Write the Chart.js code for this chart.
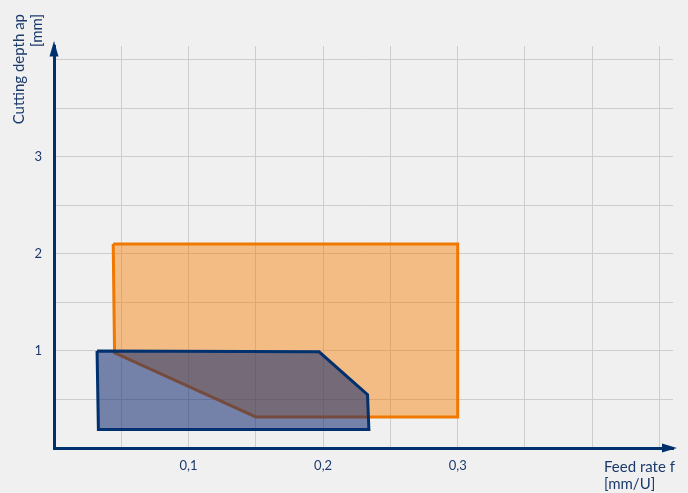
<!DOCTYPE html>
<html><head><meta charset="utf-8">
<script src="https://cdn.jsdelivr.net/npm/chart.js@4.4.1/dist/chart.umd.min.js"></script>
<style>
html,body{margin:0;padding:0;background:#f0f0f0;}
#wrap{width:688px;height:493px;position:relative;}
canvas{display:block;}
</style></head><body>
<div id="wrap"><canvas id="c" width="688" height="493"></canvas></div>
<script>
// ---- data ----
const xTickValues = [0.1, 0.2, 0.3];
const xTickLabels = ['0,1', '0,2', '0,3'];
const yTickValues = [1, 2, 3];
const yTickLabels = ['1', '2', '3'];
const xTitle = ['Feed rate f', '[mm/U]'];
const yTitle = ['Cutting depth ap', '[mm]'];
// orange region (closed polygon)
const orangeX = [0.044, 0.300, 0.300, 0.150, 0.045, 0.044];
const orangeY = [2.10, 2.10, 0.32, 0.32, 0.98, 2.10];
// blue region (closed polygon)
const blueX = [0.032, 0.197, 0.233, 0.234, 0.033, 0.032];
const blueY = [1.00, 0.99, 0.55, 0.19, 0.19, 1.00];

const NAVY = '#00306e';
const TEXT = '#1b3a6b';
const FONT = 'Lato';

const toPts = (xs, ys) => xs.map((x, i) => ({x: x, y: ys[i]}));
const labelFor = (vals, labels, v) => {
  const i = vals.findIndex(t => Math.abs(t - v) < 1e-6);
  return i >= 0 ? labels[i] : '';
};

const decorPlugin = {
  id: 'decor',
  afterDraw(chart) {
    const ctx = chart.ctx;
    const a = chart.chartArea;
    const x0 = chart.scales.x.getPixelForValue(0);
    const y0 = chart.scales.y.getPixelForValue(0);
    ctx.save();
    ctx.fillStyle = NAVY;
    // y arrow
    ctx.beginPath();
    ctx.moveTo(x0, a.top - 5);
    ctx.lineTo(x0 - 4.5, a.top + 10.5);
    ctx.lineTo(x0 + 4.5, a.top + 10.5);
    ctx.closePath();
    ctx.fill();
    // x arrow
    ctx.beginPath();
    ctx.moveTo(a.right + 4, y0);
    ctx.lineTo(a.right - 11, y0 - 4.5);
    ctx.lineTo(a.right - 11, y0 + 4.5);
    ctx.closePath();
    ctx.fill();
    // titles
    ctx.fillStyle = TEXT;
    ctx.font = '15px ' + FONT;
    ctx.textBaseline = 'alphabetic';
    ctx.textAlign = 'left';
    ctx.fillText(xTitle[0], 604, 471.5);
    ctx.fillText(xTitle[1], 604, 489);
    ctx.save();
    ctx.translate(23.5, 14);
    ctx.rotate(-Math.PI / 2);
    ctx.textAlign = 'right';
    ctx.fillText(yTitle[0], 0, 0);
    ctx.restore();
    ctx.save();
    ctx.translate(41.5, 14);
    ctx.rotate(-Math.PI / 2);
    ctx.textAlign = 'right';
    ctx.fillText(yTitle[1], 0, 0);
    ctx.restore();
    ctx.restore();
  }
};

new Chart(document.getElementById('c'), {
  type: 'scatter',
  data: {
    datasets: [
      {
        data: toPts(orangeX, orangeY),
        showLine: true,
        fill: 'shape',
        borderColor: '#f07800',
        backgroundColor: 'rgba(243,125,0,0.45)',
        borderWidth: 3,
        borderJoinStyle: 'miter',
        pointRadius: 0,
        tension: 0,
        order: 2
      },
      {
        data: toPts(blueX, blueY),
        showLine: true,
        fill: 'shape',
        borderColor: NAVY,
        backgroundColor: 'rgba(15,38,110,0.55)',
        borderWidth: 3,
        borderJoinStyle: 'miter',
        pointRadius: 0,
        tension: 0,
        order: 1
      }
    ]
  },
  options: {
    responsive: false,
    animation: false,
    devicePixelRatio: 1,
    layout: {padding: {top: 46, right: 15, left: 0, bottom: 0}},
    plugins: {legend: {display: false}, tooltip: {enabled: false}},
    scales: {
      x: {
        type: 'linear',
        min: 0, max: 0.46,
        afterFit(s) { s.height = 45; },
        grid: {color: '#cdcdcd', lineWidth: 1, drawTicks: false},
        border: {color: NAVY, width: 3},
        ticks: {
          stepSize: 0.05, includeBounds: false, autoSkip: false, maxRotation: 0,
          padding: 10, color: TEXT, font: {family: FONT, size: 13},
          callback: v => labelFor(xTickValues, xTickLabels, v)
        }
      },
      y: {
        type: 'linear',
        min: 0, max: 4.14,
        afterFit(s) { s.width = 54; },
        grid: {color: '#cdcdcd', lineWidth: 1, drawTicks: false},
        border: {color: NAVY, width: 3},
        ticks: {
          stepSize: 0.5, includeBounds: false, autoSkip: false,
          padding: 12, color: TEXT, font: {family: FONT, size: 13},
          callback: v => labelFor(yTickValues, yTickLabels, v)
        }
      }
    }
  },
  plugins: [decorPlugin]
});
</script>
</body></html>
